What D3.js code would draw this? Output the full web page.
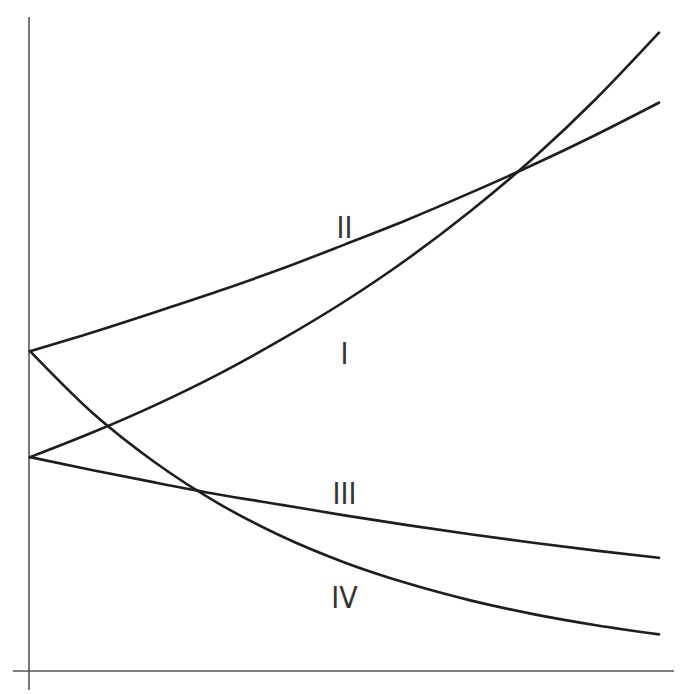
<!DOCTYPE html>
<html>
<head>
<meta charset="utf-8">
<script src="https://cdn.jsdelivr.net/npm/d3@7"></script>
<style>
  html, body { margin: 0; padding: 0; background: #fff; }
</style>
</head>
<body>
<div id="chart"></div>
<script>
// values (x from 0 to 10, y from 0 to 100)
const xValues = [0, 1, 2, 3, 4, 5, 6, 7, 8, 9, 10];
const curveI   = [32.7, 36.5, 40.7, 45.4, 50.7, 56.5, 63.0, 70.3, 78.4, 87.5, 97.6];
const curveII  = [48.9, 51.8, 54.9, 58.1, 61.5, 65.2, 69.0, 73.1, 77.4, 82.0, 86.9];
const curveIII = [32.7, 30.7, 28.8, 27.0, 25.4, 23.8, 22.3, 20.9, 19.6, 18.4, 17.3];
const curveIV  = [48.9, 39.4, 31.8, 25.6, 20.6, 16.6, 13.4, 10.8, 8.7, 7.0, 5.6];
const seriesNames = ["I", "II", "III", "IV"];
// where the roman numerals sit, in data units
const labelX = [5.0, 5.0, 5.0, 5.0];
const labelY = [48.6, 67.9, 27.2, 11.3];

const width = 696, height = 694;
const margin = { top: 17, left: 30, bottom: 23, right: 37 };

var svg = d3.select("#chart")
    .append("svg")
    .attr("width", width)
    .attr("height", height);

var x = d3.scaleLinear().domain([0, 10]).range([margin.left, width - margin.right]);
var y = d3.scaleLinear().domain([0, 100]).range([height - margin.bottom, margin.top]);

// axes: plain lines, no ticks
svg.append("line")
    .attr("x1", x(0) - 1).attr("x2", x(0) - 1)
    .attr("y1", y(100)).attr("y2", height - 4)
    .style("stroke", "#555")
    .style("stroke-width", "1.6px");

svg.append("line")
    .attr("x1", 13).attr("x2", 674)
    .attr("y1", y(0)).attr("y2", y(0))
    .style("stroke", "#555")
    .style("stroke-width", "1.6px");

var allSeries = [curveI, curveII, curveIII, curveIV];

var line = d3.line()
    .x(function (d, i) { return x(xValues[i]); })
    .y(function (d) { return y(d); })
    .curve(d3.curveMonotoneX);

svg.selectAll("path.curve")
    .data(allSeries)
    .enter()
    .append("path")
    .attr("class", "curve")
    .style("fill", "none")
    .style("stroke", "#1e1e1e")
    .style("stroke-width", "2.6px")
    .style("stroke-linecap", "round")
    .attr("d", line);

svg.selectAll("text.label")
    .data(seriesNames)
    .enter()
    .append("text")
    .attr("class", "label")
    .attr("x", function (d, i) { return x(labelX[i]); })
    .attr("y", function (d, i) { return y(labelY[i]); })
    .attr("dy", "0.36em")
    .style("text-anchor", "middle")
    .style("font-family", "'Liberation Sans Narrow', 'DejaVu Sans Condensed', Arial, sans-serif")
    .style("font-size", "30px")
    .style("fill", "#333")
    .text(function (d) { return d; });
</script>
</body>
</html>
